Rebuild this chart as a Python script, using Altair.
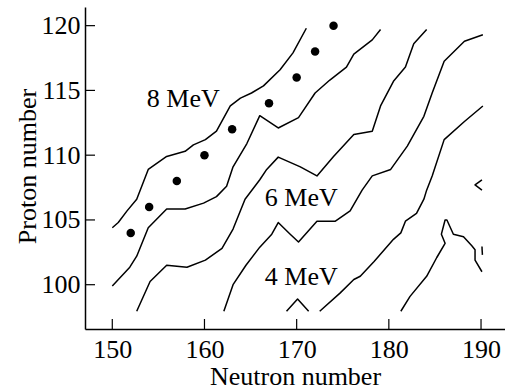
import altair as alt
import pandas as pd

# Contour lines of equal fission-barrier height: neutron number N, proton number Z
line_a_n = [150.0, 150.65, 151.6, 152.65, 153.9, 155.9, 157.9, 158.8, 160.1, 161.3, 162.8, 163.9, 165.1, 166.4, 168.2, 169.6, 171.05]
line_a_z = [104.4, 104.8, 105.7, 106.6, 108.9, 109.9, 110.3, 110.8, 111.2, 111.85, 113.8, 114.4, 114.8, 115.35, 116.6, 117.9, 119.8]

line_b_n = [150.0, 151.9, 152.65, 153.9, 155.9, 157.9, 159.9, 161.3, 162.4, 163.1, 164.6, 166.0, 168.0, 170.2, 172.0, 173.6, 175.4, 176.2, 178.2, 179.1]
line_b_z = [99.9, 101.35, 102.2, 104.4, 105.85, 105.85, 106.3, 106.8, 107.6, 109.1, 110.9, 113.05, 112.1, 112.9, 114.8, 115.8, 116.8, 117.8, 118.9, 119.7]

line_c_n = [152.65, 154.1, 155.9, 158.1, 160.1, 161.9, 163.1, 164.4, 166.0, 166.75, 168.0, 170.4, 172.2, 174.0, 176.2, 178.2, 179.1, 180.5, 181.8, 182.7, 184.1]
line_c_z = [97.95, 100.25, 101.5, 101.35, 101.9, 102.8, 104.3, 106.6, 108.1, 108.9, 109.85, 109.1, 108.4, 109.9, 111.6, 111.85, 113.8, 115.7, 116.8, 118.6, 119.7]

line_d_n = [162.1, 163.1, 164.5, 166.0, 167.3, 168.0, 169.3, 170.2, 172.2, 174.2, 175.8, 177.1, 178.2, 180.2, 182.0, 183.8, 184.7, 186.0, 188.2, 190.2]
line_d_z = [97.95, 100.0, 101.5, 102.9, 103.9, 104.8, 103.9, 103.3, 104.9, 104.9, 105.7, 107.3, 108.4, 108.9, 110.7, 113.0, 114.8, 117.25, 118.8, 119.3]

line_e_n = [172.5, 174.7, 176.2, 176.9, 178.4, 180.5, 181.3, 181.8, 183.0, 183.8, 184.1, 184.7, 186.0, 188.2, 190.2]
line_e_z = [97.95, 99.35, 100.4, 100.65, 101.8, 103.5, 104.0, 104.9, 105.5, 106.6, 107.3, 108.4, 111.2, 112.6, 113.8]

line_f_n = [181.3, 182.3, 184.1, 185.2, 186.1, 185.7, 186.1, 186.3, 187.0, 188.1, 189.0, 189.35, 189.35, 190.1]
line_f_z = [97.95, 99.1, 100.65, 102.1, 103.2, 103.9, 105.0, 105.0, 103.9, 103.7, 103.0, 102.7, 101.9, 101.0]

line_g_n = [190.1, 190.15]
line_g_z = [102.95, 102.3]

line_h_n = [190.1, 189.35, 190.1]
line_h_z = [108.1, 107.7, 107.3]

line_i_n = [168.9, 170.1, 171.3]
line_i_z = [97.95, 98.9, 97.95]

# Observed superheavy nuclei
dots_n = [152, 154, 157, 160, 163, 167, 170, 172, 174]
dots_z = [104, 106, 108, 110, 112, 114, 116, 118, 120]

# Contour level labels
label_text = ["8 MeV", "6 MeV", "4 MeV"]
label_n = [157.7, 170.5, 170.5]
label_z = [113.7, 106.1, 100.0]

x_ticks = [150, 160, 170, 180, 190]
y_ticks = [100, 105, 110, 115, 120]

FONT = "Liberation Serif"
W, H = 420, 322

lines = [
    (line_a_n, line_a_z), (line_b_n, line_b_z), (line_c_n, line_c_z),
    (line_d_n, line_d_z), (line_e_n, line_e_z), (line_f_n, line_f_z),
    (line_g_n, line_g_z), (line_h_n, line_h_z), (line_i_n, line_i_z),
]
rows = []
for k, (ns, zs) in enumerate(lines):
    for i, (n, z) in enumerate(zip(ns, zs)):
        rows.append({"seg": k, "i": i, "N": n, "Z": z})
contours = pd.DataFrame(rows)
dots = pd.DataFrame({"N": dots_n, "Z": dots_z})
labels = pd.DataFrame({"N": label_n, "Z": label_z, "t": label_text})
xt = pd.DataFrame({"N": x_ticks})
yt = pd.DataFrame({"Z": y_ticks})

x_scale = alt.Scale(domain=[147.04, 192.6], nice=False, zero=False)
y_scale = alt.Scale(domain=[96.58, 121.44], nice=False, zero=False)

x_axis = alt.Axis(
    values=x_ticks, title="Neutron number", ticks=False, tickSize=0, grid=False,
    labelPadding=7, labelFlush=False, titleBaseline="alphabetic", titleY=55,
)
y_axis = alt.Axis(
    values=y_ticks, title="Proton number", ticks=False, tickSize=0, grid=False,
    labelPadding=5, labelFlush=False, titleBaseline="alphabetic", titleX=-50,
    titleY=159, titleAngle=-90, titleAlign="center",
)

X = alt.X("N:Q", scale=x_scale, axis=x_axis)
Y = alt.Y("Z:Q", scale=y_scale, axis=y_axis)

contour_layer = alt.Chart(contours).mark_line(
    color="black", strokeWidth=1.5, strokeJoin="round"
).encode(x=X, y=Y, detail="seg:N", order="i:Q")

dot_layer = alt.Chart(dots).mark_point(
    filled=True, color="black", size=72, opacity=1, shape="circle"
).encode(x=X, y=Y)

label_layer = alt.Chart(labels).mark_text(
    font=FONT, fontSize=26, color="black", align="center", baseline="alphabetic"
).encode(x=X, y=Y, text="t:N")

# Inward-pointing tick marks
xtick_layer = alt.Chart(xt).mark_rule(color="black", strokeWidth=1.2).encode(
    x=X, y=alt.value(H), y2=alt.value(H - 10)
)
ytick_layer = alt.Chart(yt).mark_rule(color="black", strokeWidth=1.2).encode(
    y=Y, x=alt.value(0), x2=alt.value(10)
)

chart = alt.layer(
    contour_layer, dot_layer, label_layer, xtick_layer, ytick_layer
).properties(
    width=W, height=H,
    padding={"left": 85, "top": 7, "right": 0, "bottom": 61},
    autosize=alt.AutoSizeParams(type="none"),
).configure_view(stroke=None).configure_axis(
    labelFont=FONT, titleFont=FONT, labelFontSize=26, titleFontSize=26,
    titleFontWeight="normal", labelColor="black", titleColor="black",
    domainColor="black", domainWidth=1.5,
)

chart.save("out.html", embed_options={"renderer": "svg", "actions": False})
